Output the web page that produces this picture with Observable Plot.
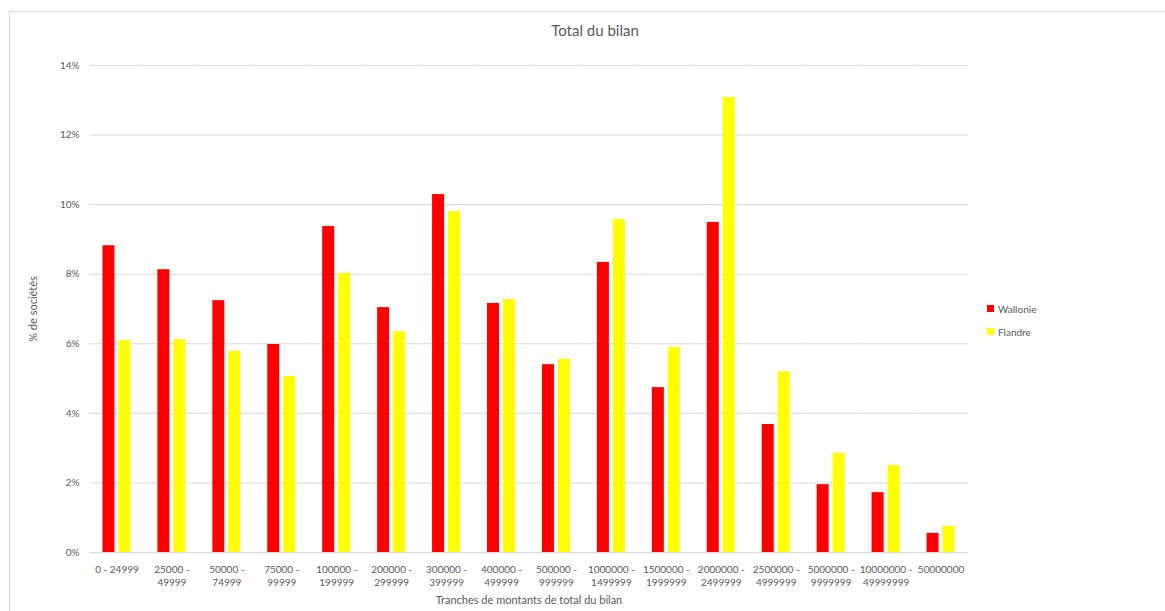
<!DOCTYPE html>
<html>
<head>
<meta charset="utf-8">
<script src="https://cdn.jsdelivr.net/npm/d3@7"></script>
<script src="https://cdn.jsdelivr.net/npm/@observablehq/plot@0.6"></script>
<style>
  html, body { margin: 0; padding: 0; background: #fff; overflow: hidden; }
  #wrap { position: relative; width: 1165px; height: 611px; font-family: Lato, "Open Sans", sans-serif; }
  #frame { position: absolute; left: 9px; top: 11px; width: 1200px; height: 700px; border: 1px solid #d9d9d9; box-sizing: border-box; }
  #title { position: absolute; left: 0; width: 1190px; top: 21px; text-align: center; font-size: 15px; color: #595959; }
  #chart { position: absolute; left: 0; top: 0; }
  #chart g[aria-label$="axis label"] { font-size: 11px; }
  #chart g[aria-label$="axis label"], #chart g[aria-label$="axis label"] text { fill: #595959; }
  #legend { position: absolute; left: 987px; top: 302px; font-size: 10px; color: #595959; }
  .item { display: flex; align-items: center; height: 13px; margin-bottom: 10px; }
  .sw { width: 7px; height: 7px; margin-right: 4px; }
</style>
</head>
<body>
<div id="wrap">
  <div id="frame"></div>
  <div id="title">Total du bilan</div>
  <div id="chart"></div>
  <div id="legend"></div>
</div>
<script>
const categories = [
  "0 - 24999", "25000 -\n49999", "50000 -\n74999", "75000 -\n99999",
  "100000 -\n199999", "200000 -\n299999", "300000 -\n399999", "400000 -\n499999",
  "500000 -\n999999", "1000000 -\n1499999", "1500000 -\n1999999", "2000000 -\n2499999",
  "2500000 -\n4999999", "5000000 -\n9999999", "10000000 -\n49999999", "50000000"
];
const seriesNames = ["Wallonie", "Flandre"];
const seriesColors = ["#ff0000", "#ffff00"];
const wallonie = [8.82, 8.13, 7.24, 5.98, 9.37, 7.04, 10.29, 7.16, 5.40, 8.34, 4.74, 9.49, 3.68, 1.95, 1.72, 0.55];
const flandre  = [6.09, 6.12, 5.78, 5.06, 8.02, 6.35, 9.80, 7.27, 5.55, 9.57, 5.89, 13.08, 5.20, 2.85, 2.50, 0.75];
const yTicks = [0, 2, 4, 6, 8, 10, 12, 14];

const data = [];
categories.forEach((c, i) => {
  data.push({cat: c, series: seriesNames[0], value: wallonie[i]});
  data.push({cat: c, series: seriesNames[1], value: flandre[i]});
});

const chart = Plot.plot({
  width: 1165,
  height: 611,
  marginLeft: 89,
  marginRight: 197,
  marginTop: 65,
  marginBottom: 59,
  style: {fontFamily: "Lato, 'Open Sans', sans-serif", fontSize: "10px", color: "#595959", background: "transparent"},
  fx: {domain: categories, padding: 0, round: false},
  x: {domain: seriesNames, paddingInner: 0.25, paddingOuter: 0.84, round: false, axis: null},
  y: {domain: [0, 14]},
  color: {domain: seriesNames, range: seriesColors},
  marks: [
    Plot.gridY(yTicks, {stroke: "#d9d9d9", strokeOpacity: 1, strokeWidth: 1}),
    Plot.barY(data, {fx: "cat", x: "series", y: "value", fill: "series"}),
    Plot.axisY(yTicks, {
      anchor: "left",
      tickSize: 0, tickPadding: 10, tickFormat: d => d + "%",
      label: "% de sociétés", labelAnchor: "center", labelArrow: false, labelOffset: 60,
      fill: "#595959"
    }),
    Plot.axisFx({
      anchor: "bottom",
      tickSize: 0, tickPadding: 11, lineHeight: 1.3,
      label: "Tranches de montants de total du bilan", labelAnchor: "center", labelArrow: false, labelOffset: 51,
      fill: "#595959"
    })
  ]
});
document.getElementById("chart").appendChild(chart);

const legend = document.getElementById("legend");
seriesNames.forEach((s, i) => {
  const it = document.createElement("div");
  it.className = "item";
  const sw = document.createElement("span");
  sw.className = "sw";
  sw.style.background = seriesColors[i];
  const t = document.createElement("span");
  t.textContent = s;
  it.appendChild(sw); it.appendChild(t);
  legend.appendChild(it);
});
</script>
</body>
</html>
